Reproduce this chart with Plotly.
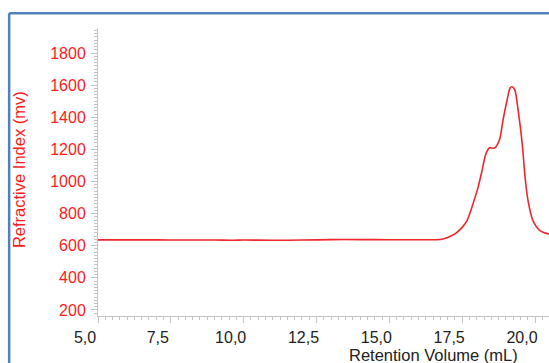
import plotly.graph_objects as go

# Data
retention_ml = [5.0, 6.0, 7.0, 8.0, 9.0, 9.6, 10.0, 11.0, 12.0, 13.0, 14.0, 15.0, 16.0, 16.5,
                16.8, 16.98, 17.15, 17.32, 17.5, 17.67, 17.87, 18.04, 18.18, 18.29, 18.38,
                18.46, 18.55, 18.64, 18.72, 18.80, 18.90, 19.04, 19.14, 19.21, 19.31, 19.42,
                19.56, 19.66, 19.76, 19.93, 20.17, 20.48]
ri_mv = [636, 636, 636, 635, 635, 634, 635, 634, 635, 638, 638, 637, 637, 637,
         640, 650, 663, 683, 714, 758, 860, 960, 1066, 1158, 1198,
         1211, 1207, 1213, 1234, 1272, 1381, 1506, 1581, 1590, 1569, 1444,
         1237, 1025, 881, 756, 694, 672]

x_ticks = [5.0, 7.5, 10.0, 12.5, 15.0, 17.5, 20.0]
x_tick_labels = ["5,0", "7,5", "10,0", "12,5", "15,0", "17,5", "20,0"]
y_ticks = [200, 400, 600, 800, 1000, 1200, 1400, 1600, 1800]

FONT = "Liberation Sans, Arial, sans-serif"
AXIS_GRAY = "#c4c4c4"

fig = go.Figure()
fig.add_trace(go.Scatter(
    x=retention_ml, y=ri_mv, mode="lines",
    line=dict(color="#f0262c", width=1.6, shape="spline", smoothing=0.7),
    hoverinfo="skip", showlegend=False,
))

fig.update_layout(
    width=549, height=363,
    margin=dict(l=98, r=0, t=28, b=47),
    paper_bgcolor="white", plot_bgcolor="white",
    font=dict(family=FONT),
    xaxis=dict(
        range=[5.0, 20.48], showgrid=False, zeroline=False,
        showline=True, linecolor=AXIS_GRAY, linewidth=1,
        tickvals=x_ticks, ticktext=x_tick_labels,
        ticks="outside", ticklen=6, tickcolor=AXIS_GRAY,
        tickfont=dict(size=16, color="#222222", family=FONT),
        ticklabelshift=-13, ticklabelstandoff=1,
        minor=dict(dtick=0.25, tick0=5.0, ticks="outside", ticklen=3, tickcolor=AXIS_GRAY),
    ),
    yaxis=dict(
        range=[162, 1956], showgrid=False, zeroline=False,
        showline=True, linecolor=AXIS_GRAY, linewidth=1,
        tickvals=y_ticks,
        ticks="outside", ticklen=6, tickcolor=AXIS_GRAY,
        tickfont=dict(size=16, color="#ff1a1a", family=FONT),
        ticklabelstandoff=2,
        minor=dict(dtick=20, tick0=200, ticks="outside", ticklen=3, tickcolor=AXIS_GRAY),
    ),
    annotations=[
        dict(text="Retention Volume (mL)", xref="paper", yref="paper",
             x=0.743, y=-0.134, xanchor="center", yanchor="middle", showarrow=False,
             font=dict(size=16.5, color="#222222", family=FONT)),
        dict(text="Refractive Index (mv)", xref="paper", yref="paper",
             x=-0.175, y=0.507, xanchor="center", yanchor="middle", showarrow=False,
             textangle=-90, font=dict(size=16.5, color="#ff1a1a", family=FONT)),
    ],
    shapes=[
        dict(type="line", xref="paper", yref="paper", x0=-0.197, x1=1.05, y0=1.051, y1=1.051,
             line=dict(color="#4f81bd", width=2.5)),
        dict(type="line", xref="paper", yref="paper", x0=-0.197, x1=-0.197, y0=1.051, y1=-0.3,
             line=dict(color="#4f81bd", width=2.5)),
    ],
)

fig.write_html("out.html")
